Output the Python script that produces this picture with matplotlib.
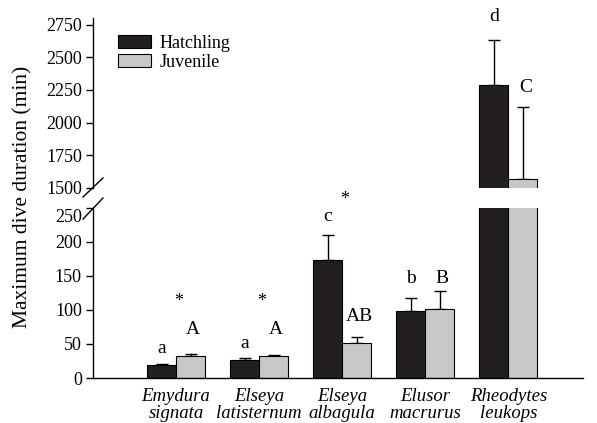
import matplotlib
matplotlib.use('Agg')
import matplotlib.pyplot as plt
from matplotlib.patches import Patch
from matplotlib.transforms import ScaledTranslation
import numpy as np

plt.rcParams['font.family'] = ['Liberation Serif', 'DejaVu Serif']

# data
species = ['Emydura\nsignata', 'Elseya\nlatisternum', 'Elseya\nalbagula',
           'Elusor\nmacrurus', 'Rheodytes\nleukops']
hatchling = [19, 27, 174, 99, 2290]
hatchling_se = [1, 2, 36, 19, 340]
juvenile = [32, 33, 51, 102, 1570]
juvenile_se = [4, 1.5, 10, 26, 550]

hatch_letters = ['a', 'a', 'c', 'b', 'd']
hatch_letter_y = [44, 51, 238, 147, 2811]
juv_letters = ['A', 'A', 'AB', 'B', 'C']
juv_letter_y = [71, 71, 90, 147, 2268]
star_groups = [0, 1, 2]
star_y = [113, 112, 262]

hatch_color = '#231f20'
juv_color = '#c6c7c9'

fig = plt.figure(figsize=(5.97, 4.23), dpi=100)
left, right = 93 / 597, 583 / 597
ax_top = fig.add_axes([left, (423 - 188) / 423, right - left, 170 / 423])
ax_bot = fig.add_axes([left, (423 - 378) / 423, right - left, 170 / 423])

x = np.arange(1, len(species) + 1)
w = 0.35

for ax in (ax_top, ax_bot):
    ax.bar(x - w / 2, hatchling, w, color=hatch_color, edgecolor='black', linewidth=0.8, zorder=2)
    ax.bar(x + w / 2, juvenile, w, color=juv_color, edgecolor='black', linewidth=0.8, zorder=2)
    ax.errorbar(x - w / 2, hatchling, yerr=[np.zeros(len(x)), hatchling_se], fmt='none',
                ecolor='black', elinewidth=1, capsize=4, capthick=1, zorder=1)
    ax.errorbar(x + w / 2, juvenile, yerr=[np.zeros(len(x)), juvenile_se], fmt='none',
                ecolor='black', elinewidth=1, capsize=4, capthick=1, zorder=1)
    ax.set_xlim(0, 5.9)
    ax.spines['top'].set_visible(False)
    ax.spines['right'].set_visible(False)
    ax.tick_params(axis='y', direction='out', length=5, width=1, labelsize=13, pad=3)
    ax.spines['left'].set_linewidth(1)

ax_top.set_ylim(1500, 2800)
ax_top.set_yticks(np.arange(1500, 2751, 250))
ax_top.spines['bottom'].set_visible(False)
ax_top.set_xticks([])

ax_bot.set_ylim(0, 250)
ax_bot.set_yticks(np.arange(0, 251, 50))
ax_bot.set_xticks(x)
ax_bot.set_xticklabels(species, fontstyle='italic', fontsize=13.5, linespacing=1.0)
ax_bot.tick_params(axis='x', length=0, pad=7)
ax_bot.spines['bottom'].set_linewidth(1)

# nudge the top label of the lower axis down a little, as in the original
lab = ax_bot.get_yticklabels()[-1]
lab.set_transform(lab.get_transform() + ScaledTranslation(0, -0.08, fig.dpi_scale_trans))

# break marks
kw = dict(color='black', linewidth=1, clip_on=False)
ax_top.plot([-0.0204, 0.0204], [-0.053, 0.059], transform=ax_top.transAxes, **kw)
ax_bot.plot([-0.0204, 0.0204], [0.935, 1.059], transform=ax_bot.transAxes, **kw)

# significance letters
for i in range(len(species)):
    ax = ax_top if hatchling[i] > 1000 else ax_bot
    ax.text(x[i] - w / 2, hatch_letter_y[i], hatch_letters[i], ha='center', va='center',
            fontsize=14, clip_on=False)
    ax = ax_top if juvenile[i] > 1000 else ax_bot
    ax.text(x[i] + w / 2 + 0.03, juv_letter_y[i], juv_letters[i], ha='center', va='center',
            fontsize=14, clip_on=False)
for g, yv in zip(star_groups, star_y):
    ax_bot.text(x[g] + 0.03, yv, '*', ha='center', va='center', fontsize=13, clip_on=False)

handles = [Patch(facecolor=hatch_color, edgecolor='black', linewidth=0.8),
           Patch(facecolor=juv_color, edgecolor='black', linewidth=0.8)]
fig.legend(handles, ['Hatchling', 'Juvenile'], loc='upper left',
           bbox_to_anchor=(118 / 597, (423 - 35) / 423), frameon=False, fontsize=13,
           handlelength=1.8, handleheight=0.7, handletextpad=0.5, labelspacing=0.1,
           borderpad=0, borderaxespad=0)

fig.text(23 / 597, (423 - 197) / 423, 'Maximum dive duration (min)', rotation=90,
         ha='center', va='center', fontsize=15.5)

fig.savefig('out.png', dpi=100)
